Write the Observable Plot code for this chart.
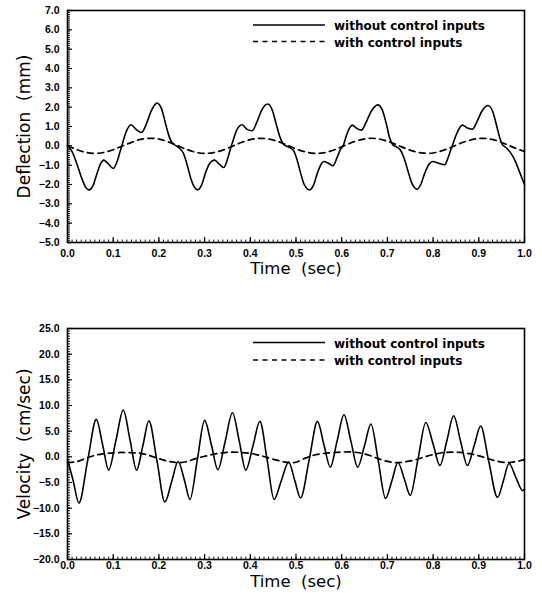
<!DOCTYPE html>
<html><head><meta charset="utf-8">
<script src="https://cdn.jsdelivr.net/npm/d3@7"></script>
<script src="https://cdn.jsdelivr.net/npm/@observablehq/plot@0.6"></script>
<style>
body{margin:0;background:#fff;}
.panel{position:relative;width:542px;}
.panel svg{display:block;}
.legend{position:absolute;left:0;top:0;pointer-events:none;}
</style></head><body>
<div id="p1" class="panel"></div>
<div id="p2" class="panel"></div>
<script>
// ---------- data ----------
const seriesLabels = ["without control inputs", "with control inputs"];
const timeTicks = [0, 0.1, 0.2, 0.3, 0.4, 0.5, 0.6, 0.7, 0.8, 0.9, 1.0];
const defTicks = [-5, -4, -3, -2, -1, 0, 1, 2, 3, 4, 5, 6, 7];
const velTicks = [-20, -15, -10, -5, 0, 5, 10, 15, 20, 25];

// Deflection (mm), without control inputs
const defSolidT = [0,0.010,0.020,0.030,0.040,0.047,0.055,0.065,0.072,0.079,0.088,0.100,0.108,0.115,0.120,0.128,0.139,0.150,0.162,0.172,0.183,0.196,0.206,0.215,0.223,0.230,0.238,0.246,0.254,0.262,0.270,0.278,0.285,0.293,0.302,0.310,0.322,0.332,0.342,0.350,0.356,0.362,0.370,0.382,0.393,0.404,0.414,0.425,0.438,0.448,0.457,0.465,0.472,0.480,0.488,0.495,0.502,0.510,0.518,0.530,0.538,0.547,0.555,0.561,0.571,0.581,0.590,0.597,0.603,0.612,0.623,0.633,0.643,0.653,0.665,0.679,0.689,0.698,0.705,0.712,0.720,0.728,0.736,0.745,0.753,0.765,0.773,0.782,0.791,0.800,0.812,0.825,0.833,0.838,0.842,0.852,0.864,0.875,0.886,0.896,0.907,0.920,0.930,0.940,0.946,0.951,0.960,0.969,0.980,0.990,1.000];
const defSolidV = [0.0,-0.3,-0.9,-1.6,-2.15,-2.28,-2.1,-1.4,-0.95,-0.74,-0.9,-1.17,-0.85,-0.3,0.1,0.7,1.09,0.85,0.69,1.1,1.8,2.21,1.9,1.1,0.45,0.12,0.0,-0.15,-0.4,-1.0,-1.7,-2.15,-2.28,-2.05,-1.4,-0.95,-0.74,-0.95,-1.12,-0.7,-0.2,0.25,0.8,1.09,0.85,0.78,1.2,1.85,2.16,1.85,1.1,0.45,0.1,-0.02,-0.12,-0.26,-0.7,-1.4,-2.0,-2.28,-2.05,-1.4,-0.95,-0.81,-0.9,-1.03,-0.6,-0.2,0.0,0.65,1.07,0.9,0.81,1.2,1.8,2.12,1.85,1.1,0.4,0.05,-0.05,-0.2,-0.6,-1.3,-1.9,-2.24,-2.0,-1.4,-0.95,-0.81,-0.9,-0.98,-0.6,-0.25,0.0,0.65,1.07,0.92,0.86,1.25,1.8,2.09,1.8,0.95,0.4,0.09,-0.1,-0.34,-0.8,-1.4,-2.0];

// Deflection (mm), with control inputs
const defDashT = [0,0.02,0.04,0.06,0.08,0.10,0.12,0.14,0.16,0.18,0.20,0.22,0.24,0.26,0.28,0.30,0.32,0.34,0.36,0.38,0.40,0.42,0.44,0.46,0.48,0.50,0.52,0.54,0.56,0.58,0.60,0.62,0.64,0.66,0.68,0.70,0.72,0.74,0.76,0.78,0.80,0.82,0.84,0.86,0.88,0.90,0.92,0.94,0.96,0.98,1.00];
const defDashV = [0,-0.19,-0.34,-0.39,-0.34,-0.20,-0.01,0.18,0.33,0.39,0.35,0.21,0.02,-0.18,-0.33,-0.39,-0.35,-0.22,-0.03,0.17,0.32,0.39,0.35,0.23,0.04,-0.16,-0.31,-0.39,-0.36,-0.24,-0.05,0.15,0.31,0.39,0.36,0.24,0.06,-0.14,-0.30,-0.38,-0.37,-0.25,-0.07,0.13,0.29,0.38,0.37,0.26,0.08,-0.12,-0.29];

// Velocity (cm/sec), without control inputs
const velSolidT = [0.000,0.012,0.025,0.044,0.063,0.077,0.090,0.106,0.122,0.137,0.151,0.165,0.178,0.196,0.213,0.228,0.242,0.256,0.268,0.284,0.300,0.315,0.329,0.345,0.361,0.376,0.390,0.406,0.421,0.437,0.452,0.468,0.484,0.497,0.510,0.529,0.547,0.561,0.575,0.590,0.605,0.620,0.635,0.650,0.664,0.680,0.696,0.710,0.723,0.737,0.750,0.767,0.784,0.800,0.815,0.830,0.845,0.860,0.875,0.890,0.904,0.922,0.941,0.954,0.966,0.982,0.996,1.000];
const velSolidV = [-0.5,-4.5,-9.0,-0.8,7.3,2.3,-2.6,3.2,9.1,3.2,-2.6,2.2,7.0,-0.9,-8.8,-4.8,-0.9,-4.6,-8.3,-0.6,7.1,2.3,-2.5,3.0,8.6,3.0,-2.6,2.2,6.9,-0.7,-8.3,-4.6,-1.0,-4.5,-8.0,-0.5,6.9,2.4,-2.0,3.1,8.2,3.1,-2.0,2.2,6.4,-0.8,-8.1,-4.6,-1.1,-4.3,-7.5,-0.4,6.7,2.5,-1.7,3.1,8.0,3.1,-1.7,2.2,6.0,-1.0,-7.9,-4.6,-1.3,-4.2,-6.6,-6.3];

// Velocity (cm/sec), with control inputs
const velDashT = [0,0.02,0.04,0.06,0.08,0.10,0.12,0.14,0.16,0.18,0.20,0.22,0.24,0.26,0.28,0.30,0.32,0.34,0.36,0.38,0.40,0.42,0.44,0.46,0.48,0.50,0.52,0.54,0.56,0.58,0.60,0.62,0.64,0.66,0.68,0.70,0.72,0.74,0.76,0.78,0.80,0.82,0.84,0.86,0.88,0.90,0.92,0.94,0.96,0.98,1.00];
const velDashV = [-1.15,-0.95,-0.3,0.3,0.6,0.78,0.85,0.8,0.68,0.25,-0.35,-0.85,-1.12,-0.95,-0.35,0.1,0.5,0.8,0.92,0.85,0.68,0.3,-0.2,-0.7,-1.08,-1.05,-0.25,0.35,0.65,0.82,0.92,0.95,0.75,0.3,-0.35,-0.9,-1.12,-0.95,-0.6,-0.05,0.45,0.8,0.92,0.85,0.62,0.2,-0.35,-0.85,-1.12,-0.95,-0.55];

// ---------- drawing ----------
const zip = (T, V) => T.map((t, i) => ({t, v: V[i]}));
const fmt = d3.format(".1f");
const TICKFONT = "Liberation Sans, Arial, sans-serif";
const TITLEFONT = "DejaVu Sans, sans-serif";

function panel(el, cfg) {
  const chart = Plot.plot({
    width: 542,
    height: cfg.height,
    marginLeft: 67, marginRight: 18, marginTop: cfg.marginTop, marginBottom: cfg.marginBottom,
    style: {background: "white", color: "black", overflow: "visible"},
    x: {domain: [0, 1]},
    y: {domain: cfg.yDomain},
    marks: [
      // minor ticks (inward)
      Plot.axisY({ticks: cfg.yMinor, tickSize: -3, fill: "none", label: null, strokeWidth: 0.9}),
      Plot.axisX({ticks: cfg.xMinor, tickSize: -2.5, fill: "none", label: null, strokeWidth: 0.9}),
      // major ticks with labels
      Plot.axisY({ticks: cfg.yTicks, tickSize: -5, tickPadding: 13, tickFormat: fmt, label: null,
        fontFamily: TICKFONT, fontWeight: "bold", fontSize: 10.5, strokeWidth: 1.2}),
      Plot.axisX({ticks: timeTicks, tickSize: -5, tickPadding: cfg.xPad, tickFormat: fmt, label: null,
        fontFamily: TICKFONT, fontWeight: "bold", fontSize: 10.5, strokeWidth: 1.2}),
      Plot.frame({stroke: "black", strokeWidth: 1.6}),
      Plot.line(zip(cfg.dashT, cfg.dashV), {x: "t", y: "v", curve: "catmull-rom",
        stroke: "black", strokeWidth: 1.7, strokeDasharray: "6,4.5"}),
      Plot.line(zip(cfg.solidT, cfg.solidV), {x: "t", y: "v", curve: "monotone-x",
        stroke: "black", strokeWidth: 1.6}),
      Plot.text([cfg.yLabel], {text: d => d, frameAnchor: "left", dx: -43, rotate: -90,
        textAnchor: "middle", fontFamily: TITLEFONT, fontSize: 17, fill: "black"}),
      Plot.text(["Time\u00a0\u00a0(sec)"], {text: d => d, frameAnchor: "bottom", dy: cfg.xTitleDy,
        textAnchor: "middle", fontFamily: TITLEFONT, fontSize: 16.5, fill: "black"})
    ]
  });
  el.appendChild(chart);

  // legend (inside the plot area, top right)
  const lg = d3.select(el).append("svg").attr("class", "legend")
    .attr("width", 542).attr("height", 80);
  const rows = [
    {y: cfg.legendY[0], dash: null, label: seriesLabels[0]},
    {y: cfg.legendY[1], dash: "5,4.5", label: seriesLabels[1]}
  ];
  for (const r of rows) {
    lg.append("line").attr("x1", 253).attr("x2", 325).attr("y1", r.y).attr("y2", r.y)
      .attr("stroke", "black").attr("stroke-width", 1.6)
      .attr("stroke-dasharray", r.dash);
    lg.append("text").attr("x", 334).attr("y", r.y + 1.5)
      .attr("dominant-baseline", "middle")
      .attr("font-family", TITLEFONT).attr("font-weight", "bold").attr("font-size", 12)
      .attr("fill", "black").text(r.label);
  }
}

panel(document.getElementById("p1"), {
  height: 300, marginTop: 10, marginBottom: 58,
  yDomain: [-5, 7], yTicks: defTicks, yMinor: d3.range(-5, 7.001, 0.1),
  xMinor: d3.range(0, 1.0001, 0.01), xPad: 12, xTitleDy: 31,
  solidT: defSolidT, solidV: defSolidV, dashT: defDashT, dashV: defDashV,
  yLabel: "Deflection\u00a0\u00a0(mm)", legendY: [25, 41.5]
});
panel(document.getElementById("p2"), {
  height: 293, marginTop: 28, marginBottom: 34,
  yDomain: [-20, 25], yTicks: velTicks, yMinor: d3.range(-20, 25.001, 0.5),
  xMinor: d3.range(0, 1.0001, 0.01), xPad: 7, xTitleDy: 27,
  solidT: velSolidT, solidV: velSolidV, dashT: velDashT, dashV: velDashV,
  yLabel: "Velocity\u00a0\u00a0(cm/sec)", legendY: [42.5, 60]
});
</script>
</body></html>
